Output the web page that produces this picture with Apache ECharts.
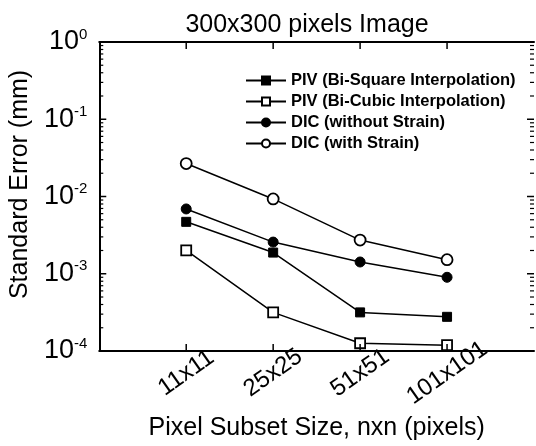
<!DOCTYPE html>
<html>
<head>
<meta charset="utf-8">
<script src="https://cdn.jsdelivr.net/npm/echarts@6/dist/echarts.min.js"></script>
<style>
  html, body { margin: 0; padding: 0; background: #fff; }
  #chart { width: 536px; height: 446px; }
</style>
</head>
<body>
<div id="chart"></div>
<script>
// Subset sizes along the x axis
const subsetSizes = ['11x11', '25x25', '51x51', '101x101'];

// Standard error (mm) per method
const pivBiSquare = [0.0047, 0.00188, 0.000316, 0.000277];
const pivBiCubic = [0.00201, 0.000316, 0.000126, 0.000119];
const dicNoStrain = [0.0069, 0.00257, 0.00142, 0.0009];
const dicStrain = [0.0267, 0.0093, 0.00273, 0.00152];

const seriesNames = [
  'PIV (Bi-Square Interpolation)',
  'PIV (Bi-Cubic Interpolation)',
  'DIC (without Strain)',
  'DIC (with Strain)'
];

// Decades of the log axis and the minor ticks (2..9) between them
const decades = [1e-4, 1e-3, 1e-2, 1e-1, 1];
const minorTicks = [];
decades.slice(0, -1).forEach(d => {
  for (let k = 2; k <= 9; k++) minorTicks.push(+(d * k).toPrecision(3));
});

const FONT = 'Liberation Sans, Arial, sans-serif';
const positions = subsetSizes.map((_, i) => i + 1);
const X_MIN = 0, X_MAX = positions.length + 1;
const Y_MIN = decades[0], Y_MAX = decades[decades.length - 1];

function pairs(values) {
  return values.map((v, i) => [positions[i], v]);
}

const filled = { color: '#000', borderColor: '#000', borderWidth: 1 };
const hollow = { color: '#fff', borderColor: '#000', borderWidth: 1.8 };

function makeSeries(name, values, symbol, size, style) {
  return {
    name: name,
    type: 'line',
    data: pairs(values),
    symbol: symbol,
    symbolSize: size,
    lineStyle: { color: '#000', width: 1.5 },
    itemStyle: style,
    emphasis: { disabled: true },
    z: 3
  };
}

// Inward tick marks on the left/right frame at the given y values
function yTickSeries(values, len, width) {
  return {
    type: 'custom',
    silent: true,
    clip: false,
    z: 4,
    encode: { x: 0, y: 1 },
    data: values.map(v => [X_MIN, v]),
    renderItem: (params, api) => {
      const v = api.value(1);
      const l = api.coord([X_MIN, v]);
      const r = api.coord([X_MAX, v]);
      const style = { stroke: '#000', lineWidth: width };
      return {
        type: 'group',
        children: [
          { type: 'line', shape: { x1: l[0], y1: l[1], x2: l[0] + len, y2: l[1] }, style: style },
          { type: 'line', shape: { x1: r[0], y1: r[1], x2: r[0] - len, y2: r[1] }, style: style }
        ]
      };
    }
  };
}

// Inward tick marks on the bottom/top frame at each subset size
function xTickSeries(values, len, width) {
  return {
    type: 'custom',
    silent: true,
    clip: false,
    z: 4,
    encode: { x: 0, y: 1 },
    data: values.map(p => [p, Y_MIN]),
    renderItem: (params, api) => {
      const p = api.value(0);
      const b = api.coord([p, Y_MIN]);
      const t = api.coord([p, Y_MAX]);
      const style = { stroke: '#000', lineWidth: width };
      return {
        type: 'group',
        children: [
          { type: 'line', shape: { x1: b[0], y1: b[1], x2: b[0], y2: b[1] - len }, style: style },
          { type: 'line', shape: { x1: t[0], y1: t[1], x2: t[0], y2: t[1] + len }, style: style }
        ]
      };
    }
  };
}

function xAxisBase() {
  return {
    type: 'value',
    min: X_MIN,
    max: X_MAX,
    interval: 1,
    splitLine: { show: false },
    axisLine: { show: true, lineStyle: { color: '#000', width: 2 } },
    axisTick: { show: false }
  };
}

function yAxisBase() {
  return {
    type: 'log',
    logBase: 10,
    min: Y_MIN,
    max: Y_MAX,
    splitLine: { show: false },
    minorTick: { show: false },
    minorSplitLine: { show: false },
    axisTick: { show: false }
  };
}

const chart = echarts.init(document.getElementById('chart'));

chart.setOption({
  backgroundColor: '#fff',
  animation: false,
  title: {
    text: '300x300 pixels Image',
    left: 302,
    textAlign: 'center',
    top: 8,
    textStyle: { fontFamily: FONT, fontSize: 25, fontWeight: 'normal', color: '#000' }
  },
  grid: { left: 95, top: 42, right: 2, bottom: 94, containLabel: false },
  legend: {
    orient: 'vertical',
    left: 240,
    top: 67,
    align: 'left',
    itemWidth: 40,
    itemHeight: 10,
    itemGap: 4,
    data: seriesNames,
    textStyle: { fontFamily: FONT, fontSize: 16.5, fontWeight: 'bold', color: '#000', lineHeight: 16 }
  },
  xAxis: [
    Object.assign(xAxisBase(), {
      position: 'bottom',
      name: 'Pixel Subset Size, nxn (pixels)',
      nameLocation: 'middle',
      nameGap: 65,
      nameTextStyle: { fontFamily: FONT, fontSize: 25, color: '#000' },
      axisLabel: {
        show: true,
        customValues: positions,
        formatter: v => subsetSizes[Math.round(v) - 1] || '',
        rotate: 35,
        align: 'center',
        verticalAlign: 'middle',
        margin: 22,
        fontFamily: FONT,
        fontSize: 24,
        color: '#000'
      }
    }),
    Object.assign(xAxisBase(), {
      position: 'top',
      axisLabel: { show: false }
    })
  ],
  yAxis: [
    Object.assign(yAxisBase(), {
      position: 'left',
      name: 'Standard Error (mm)',
      nameLocation: 'middle',
      nameRotate: 90,
      nameGap: 56,
      nameTextStyle: { fontFamily: FONT, fontSize: 25, color: '#000', padding: [0, 0, 0, 24] },
      axisLine: { show: true, lineStyle: { color: '#000', width: 2 } },
      axisLabel: {
        show: true,
        margin: 12,
        formatter: v => '{b|10}{s|' + Math.round(Math.log10(v)) + '}',
        rich: {
          b: { fontFamily: FONT, fontSize: 27, color: '#000', lineHeight: 30 },
          s: { fontFamily: FONT, fontSize: 15, color: '#000', verticalAlign: 'top', lineHeight: 15 }
        }
      }
    }),
    Object.assign(yAxisBase(), {
      position: 'right',
      axisLine: { show: true, lineStyle: { color: '#000', width: 2 } },
      axisLabel: { show: false }
    })
  ],
  series: [
    yTickSeries(decades, 7, 1.5),
    yTickSeries(minorTicks, 4, 1.2),
    xTickSeries(positions, 7, 1.5),
    makeSeries(seriesNames[0], pivBiSquare, 'rect', 9, filled),
    makeSeries(seriesNames[1], pivBiCubic, 'rect', 10, hollow),
    makeSeries(seriesNames[2], dicNoStrain, 'circle', 10, filled),
    makeSeries(seriesNames[3], dicStrain, 'circle', 11, hollow)
  ]
});
</script>
</body>
</html>
